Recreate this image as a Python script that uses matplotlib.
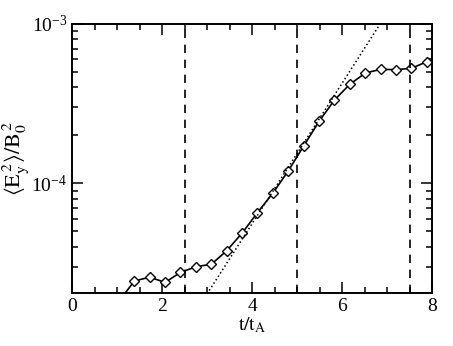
import numpy as np
import matplotlib
matplotlib.use('Agg')
import matplotlib.pyplot as plt
from matplotlib.ticker import LogLocator, MultipleLocator, NullFormatter

plt.rcParams['font.family'] = 'Liberation Serif'
plt.rcParams['mathtext.fontset'] = 'stix'

# energy <Ey^2>/B0^2 vs time
t = [0.70, 1.04, 1.385, 1.726, 2.067, 2.407, 2.756, 3.096, 3.437, 3.785, 4.119,
     4.459, 4.807, 5.148, 5.489, 5.830, 6.170, 6.519, 6.859, 7.200, 7.541, 7.889]
ey2 = [1.70e-5, 1.82e-5, 2.44e-5, 2.58e-5, 2.39e-5, 2.76e-5, 3.00e-5, 3.11e-5, 3.78e-5,
       4.90e-5, 6.55e-5, 8.66e-5, 1.20e-4, 1.72e-4, 2.45e-4, 3.33e-4, 4.18e-4,
       4.92e-4, 5.19e-4, 5.16e-4, 5.27e-4, 5.80e-4]

# exponential growth fit: log10(y) = fit_a + fit_b * t
fit_a = -6.015
fit_b = 0.4405
t_fit = [3.0, 6.9]

vlines = [2.5, 5.0, 7.5]

fig = plt.figure(figsize=(4.53, 3.46), dpi=100)
ax = fig.add_axes([0.159, 0.152, 0.795, 0.779])

ax.plot(t, ey2, '-', color='black', lw=1.2, marker='D', ms=5.5,
        mfc='white', mec='black', mew=1.0)

tf = np.linspace(t_fit[0], t_fit[1], 50)
ax.plot(tf, 10**(fit_a + fit_b*tf), ':', color='black', lw=1.1)

for x in vlines:
    ax.axvline(x, color='black', ls=(0, (5, 4)), lw=1.2)

ax.set_yscale('log')
ax.set_xlim(0, 8)
ax.set_ylim(2.04e-5, 1e-3)

ax.xaxis.set_major_locator(MultipleLocator(2))
ax.xaxis.set_minor_locator(MultipleLocator(0.5))
ax.yaxis.set_major_locator(LogLocator(base=10, numticks=10))
ax.yaxis.set_minor_locator(LogLocator(base=10, subs=np.arange(2, 10), numticks=10))
ax.yaxis.set_minor_formatter(NullFormatter())

ax.tick_params(which='both', direction='in', top=True, right=True,
               labelsize=14, width=1.1)
ax.tick_params(which='major', length=8)
ax.tick_params(which='minor', length=4)
for s in ax.spines.values():
    s.set_linewidth(1.4)

ax.set_xlabel(r'$\mathrm{t/t_A}$', fontsize=14, labelpad=0)
ax.set_ylabel(r'$\mathrm{\langle E_y^{\,2}\rangle/B_0^{\,2}}$', fontsize=16, labelpad=0)

fig.savefig('out.png', dpi=100)
